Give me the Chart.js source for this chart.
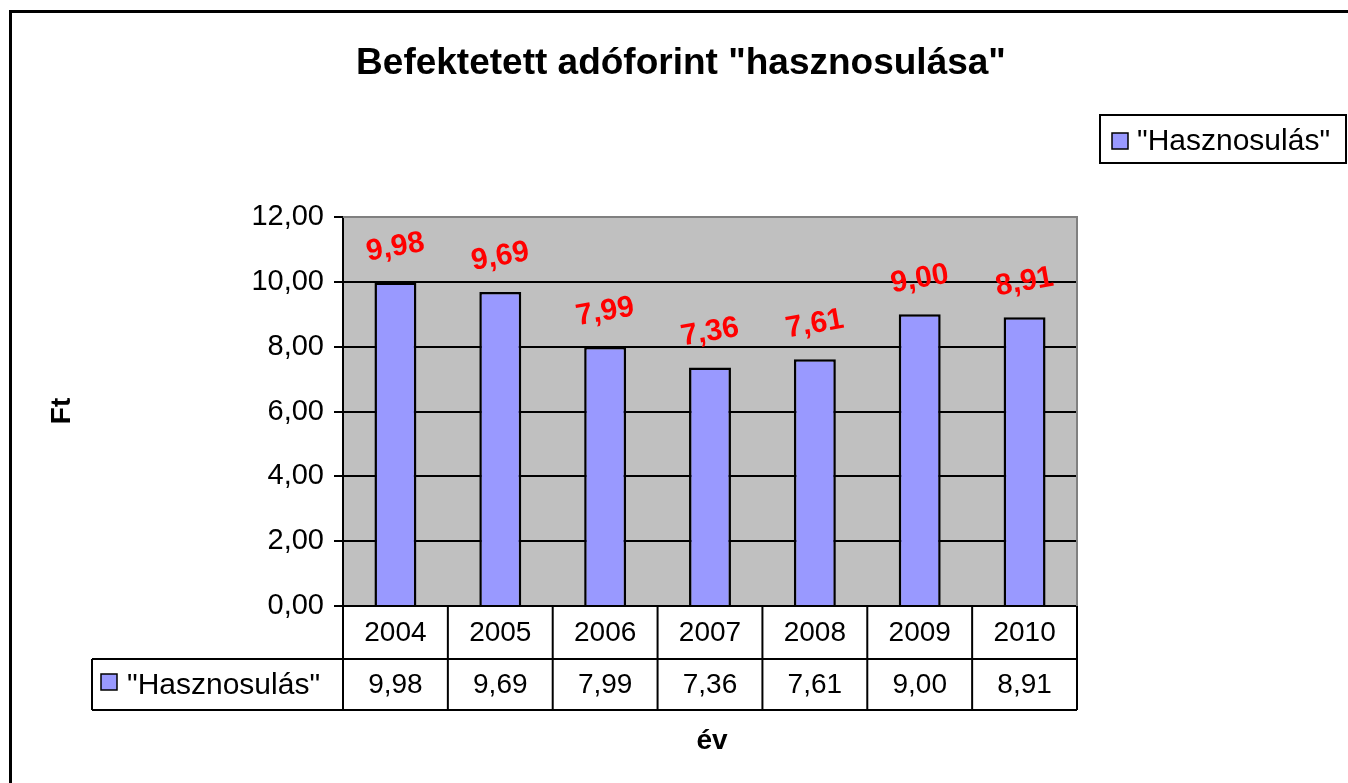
<!DOCTYPE html>
<html lang="hu">
<head>
<meta charset="utf-8" />
<title>Befektetett adóforint "hasznosulása"</title>
<script src="https://cdn.jsdelivr.net/npm/chart.js"></script>
<style>
  body { margin: 0; background: #fff; }
  canvas { display: block; }
</style>
</head>
<body>
<canvas id="hasznChart" width="1348" height="783"></canvas>
<script>
  // data
  const years = ['2004', '2005', '2006', '2007', '2008', '2009', '2010'];
  const hasznosulas = [9.98, 9.69, 7.99, 7.36, 7.61, 9.00, 8.91];
  const yTicks = [0, 2, 4, 6, 8, 10, 12];
  const seriesName = '"Hasznosulás"';
  const chartTitle = 'Befektetett adóforint "hasznosulása"';
  const yTitle = 'Ft';
  const xTitle = 'év';

  const FONT = '"Liberation Sans", Arial, sans-serif';
  const BAR = '#9999FF';
  const fmt = v => Number(v).toFixed(2).replace('.', ',');

  // everything Excel draws around the bars: plot background, table, legend, labels
  const excelPlugin = {
    id: 'excel',
    beforeDraw(chart) {
      const c = chart.ctx, a = chart.chartArea;
      c.save();
      c.fillStyle = '#fff';
      c.fillRect(0, 0, chart.width, chart.height);
      c.fillStyle = '#C0C0C0';
      c.fillRect(a.left, a.top, a.right - a.left, a.bottom - a.top);
      c.restore();
    },
    afterDatasetsDraw(chart) {
      const c = chart.ctx;
      const meta = chart.getDatasetMeta(0);
      c.save();
      c.fillStyle = '#FF0000';
      c.font = 'bold 30px ' + FONT;
      c.textAlign = 'center';
      c.textBaseline = 'middle';
      meta.data.forEach((el, i) => {
        c.save();
        c.translate(el.x, el.y - 35);
        c.rotate(-Math.PI / 18);
        c.fillText(fmt(hasznosulas[i]), 0, 0);
        c.restore();
      });
      c.restore();
    },
    afterDraw(chart) {
      const c = chart.ctx, a = chart.chartArea;
      const xs = chart.scales.x;
      const n = years.length;
      const colW = (a.right - a.left) / n;
      c.save();

      // plot area border (top / right)
      c.strokeStyle = '#808080';
      c.lineWidth = 2;
      c.beginPath();
      c.moveTo(a.left, a.top);
      c.lineTo(a.right, a.top);
      c.lineTo(a.right, a.bottom);
      c.stroke();

      // data table
      const r1 = a.bottom, r2 = a.bottom + 53, r3 = a.bottom + 104, hdrL = 92;
      c.strokeStyle = '#000';
      c.lineWidth = 2;
      c.beginPath();
      for (let i = 0; i <= n; i++) {
        const x = a.left + i * colW;
        c.moveTo(x, r1);
        c.lineTo(x, r3);
      }
      c.moveTo(hdrL, r2); c.lineTo(a.right, r2);
      c.moveTo(hdrL, r3); c.lineTo(a.right, r3);
      c.moveTo(hdrL, r2); c.lineTo(hdrL, r3);
      c.stroke();

      c.fillStyle = '#000';
      c.font = '28px ' + FONT;
      c.textAlign = 'center';
      c.textBaseline = 'middle';
      years.forEach((y, i) => {
        const cx = xs.getPixelForValue(i);
        c.fillText(y, cx, (r1 + r2) / 2 + 1);
        c.fillText(fmt(hasznosulas[i]), cx, (r2 + r3) / 2 + 1);
      });

      // table header key
      c.fillStyle = BAR;
      c.fillRect(101, 674, 16, 16);
      c.lineWidth = 1.5;
      c.strokeRect(101, 674, 16, 16);
      c.fillStyle = '#000';
      c.textAlign = 'left';
      c.font = '30px ' + FONT;
      c.fillText(seriesName, 127, (r2 + r3) / 2 + 1);

      // legend
      c.lineWidth = 2;
      c.strokeRect(1100, 115, 246, 48);
      c.fillStyle = BAR;
      c.fillRect(1112, 133, 16, 16);
      c.lineWidth = 1.5;
      c.strokeRect(1112, 133, 16, 16);
      c.fillStyle = '#000';
      c.fillText(seriesName, 1137, 142);

      // titles
      c.textAlign = 'center';
      c.font = 'bold 37px ' + FONT;
      c.fillText(chartTitle, 681, 64);
      c.font = 'bold 28px ' + FONT;
      c.fillText(xTitle, 712, 741);
      c.save();
      c.translate(62, 411);
      c.rotate(-Math.PI / 2);
      c.fillText(yTitle, 0, 0);
      c.restore();

      // outer chart frame
      c.lineWidth = 3;
      c.strokeStyle = '#000';
      c.strokeRect(10.5, 11.5, 1400, 800);
      c.restore();
    }
  };

  new Chart(document.getElementById('hasznChart'), {
    type: 'bar',
    data: {
      labels: years,
      datasets: [{
        label: seriesName,
        data: hasznosulas,
        backgroundColor: BAR,
        borderColor: '#000',
        borderWidth: 2.5,
        barPercentage: 0.4,
        categoryPercentage: 1.0
      }]
    },
    options: {
      responsive: false,
      animation: false,
      layout: { padding: { left: 10, top: 217, right: 271, bottom: 177 } },
      plugins: {
        legend: { display: false },
        title: { display: false },
        tooltip: { enabled: false }
      },
      scales: {
        x: { display: false, offset: true },
        y: {
          min: 0,
          max: 12,
          afterBuildTicks: s => { s.ticks = yTicks.map(v => ({ value: v })); },
          afterFit: s => { s.width = 333; },
          ticks: {
            callback: v => fmt(v),
            font: { family: FONT, size: 29 },
            color: '#000',
            padding: 10
          },
          grid: {
            color: ctx => (ctx.tick && ctx.tick.value === 12 ? '#808080' : '#000'),
            tickColor: '#000',
            lineWidth: 2,
            tickLength: 9
          },
          border: { color: '#000', width: 2 }
        }
      }
    },
    plugins: [excelPlugin]
  });
</script>
</body>
</html>
